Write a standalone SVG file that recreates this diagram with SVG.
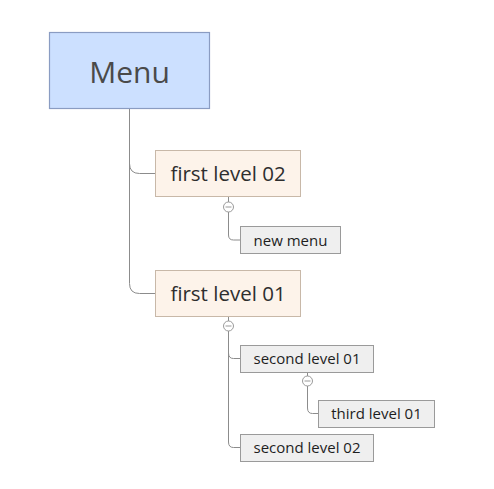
<svg xmlns="http://www.w3.org/2000/svg" width="494" height="489" viewBox="0 0 494 489">
<style>
text{font-family:"Open Sans","Segoe UI","DejaVu Sans",sans-serif;text-anchor:middle;dominant-baseline:central}
.root rect{fill:#cce0ff;stroke:#8a9cc2;stroke-width:1.2}
.root text{font-size:30px;fill:#4a4a4a}
.l1 rect{fill:#fdf3ea;stroke:#c8b8a8;stroke-width:1}
.l1 text{font-size:20.5px;fill:#2e2e2e}
.l2 rect{fill:#efefef;stroke:#9a9a9a;stroke-width:1}
.l2 text{font-size:15px;fill:#1e1e1e}
.conn path{fill:none;stroke:#8c8c8c;stroke-width:1}
.conn circle{fill:#fff;stroke:#9a9a9a;stroke-width:1}
.conn line{stroke:#9a9a9a;stroke-width:1}
</style>
<rect width="494" height="489" fill="#fff"/>
<g class="conn" id="connectors">
<path d="M129.5,109 V163.5 Q129.5,173.5 139.5,173.5 H155"/>
<path d="M129.5,163 V283.5 Q129.5,293.5 139.5,293.5 H155"/>
<path d="M228.5,212 V235 Q228.5,240 233.5,240 H240"/>
<path d="M228.5,331 V353 Q228.5,358.5 233.5,358.5 H240"/>
<path d="M228.5,353 V442 Q228.5,447.5 233.5,447.5 H240"/>
<path d="M307.5,386 V408 Q307.5,413.5 312.5,413.5 H318"/>
<path d="M228.5,197 V202"/>
<path d="M228.5,317 V321"/>
<path d="M307.5,372 V376"/>
<circle cx="228.5" cy="207" r="5"/><line x1="225.5" y1="207" x2="231.5" y2="207"/>
<circle cx="228.5" cy="326" r="5"/><line x1="225.5" y1="326" x2="231.5" y2="326"/>
<circle cx="307.5" cy="381" r="5"/><line x1="304.5" y1="381" x2="310.5" y2="381"/>
</g>
<g id="menu" class="root"><rect x="49.5" y="32.5" width="160" height="76"/><text x="129.5" y="71">Menu</text></g>
<g id="first-level-02" class="l1"><rect x="155.5" y="150.5" width="145" height="46"/><text x="228" y="173">first level 02</text></g>
<g id="new-menu" class="l2"><rect x="240.5" y="226.5" width="100" height="27"/><text x="290.5" y="239.5">new menu</text></g>
<g id="first-level-01" class="l1"><rect x="155.5" y="270.5" width="145" height="46"/><text x="228" y="293">first level 01</text></g>
<g id="second-level-01" class="l2"><rect x="240.5" y="345.5" width="133" height="27"/><text x="307" y="358">second level 01</text></g>
<g id="third-level-01" class="l2"><rect x="318.5" y="400.5" width="116" height="27"/><text x="376.5" y="413">third level 01</text></g>
<g id="second-level-02" class="l2"><rect x="240.5" y="434.5" width="133" height="27"/><text x="307" y="447">second level 02</text></g>
</svg>
